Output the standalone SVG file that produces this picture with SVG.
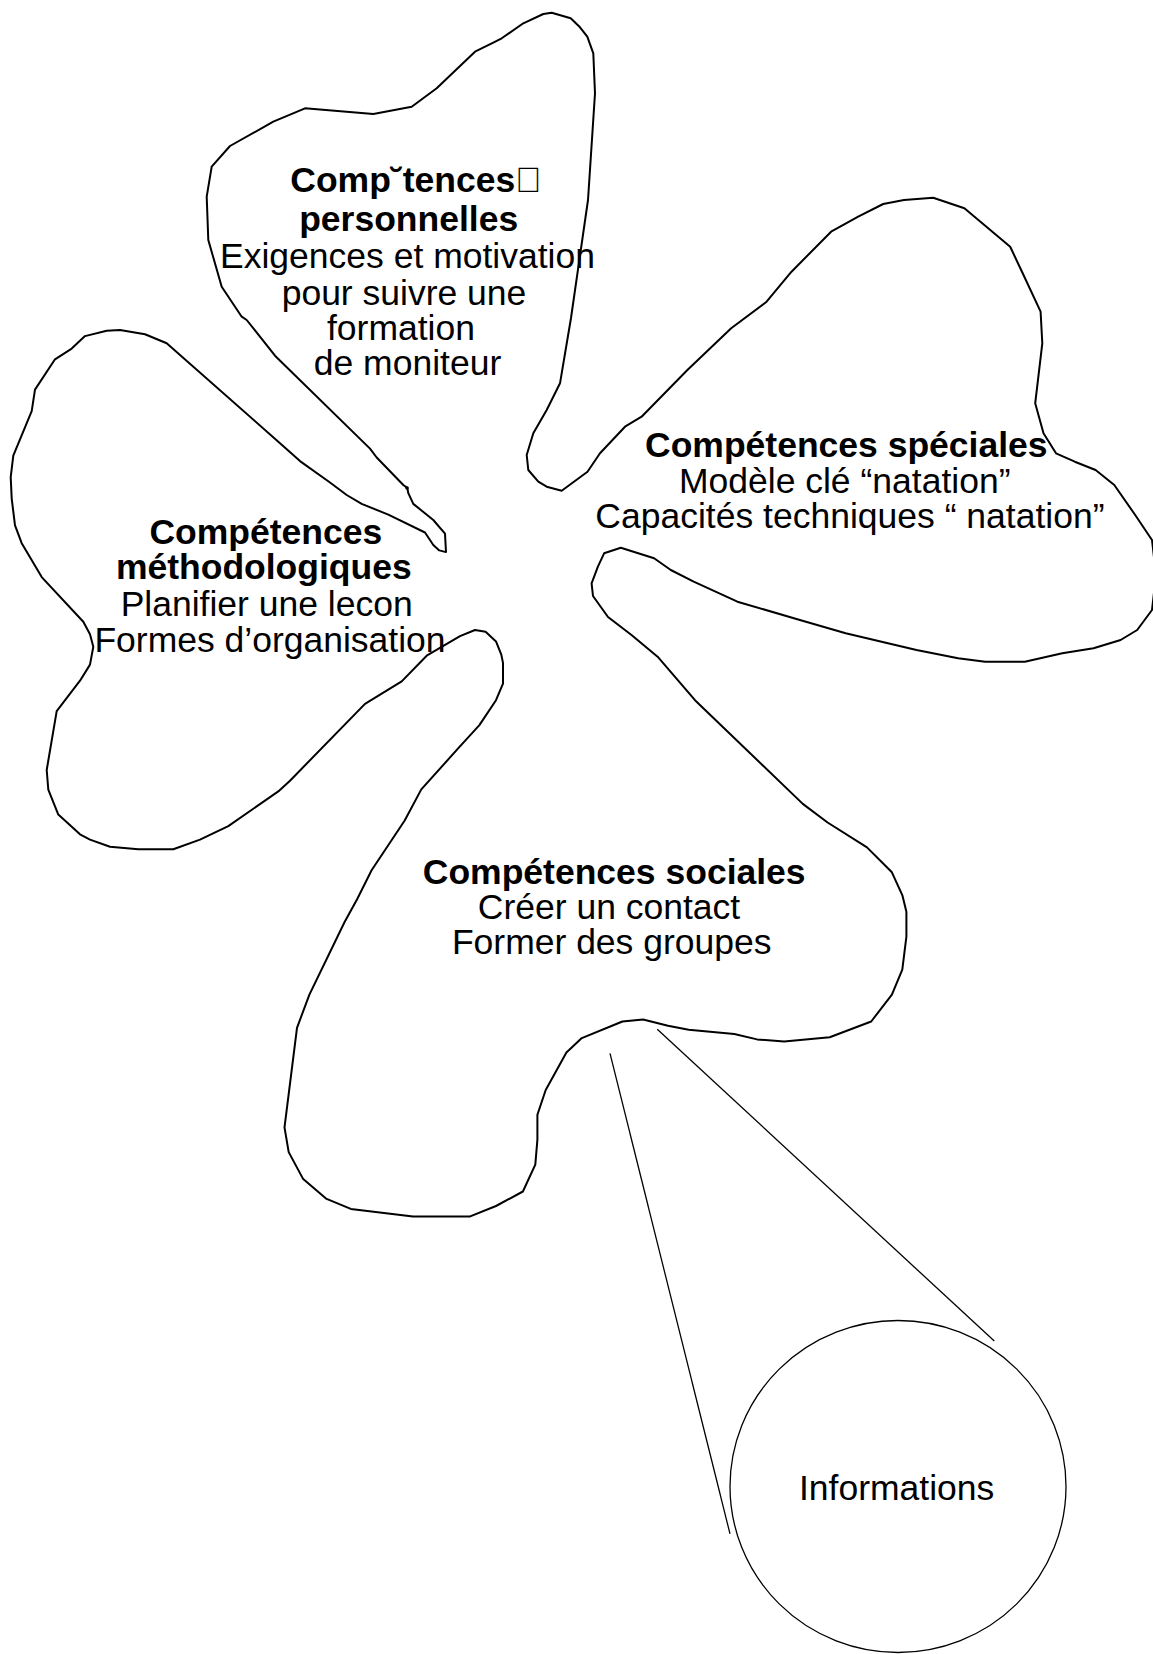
<svg xmlns="http://www.w3.org/2000/svg" width="1153" height="1654" viewBox="0 0 1153 1654">
<style>
.outline{fill:none;stroke:#000;stroke-width:2;stroke-linejoin:round}
.thin{fill:none;stroke:#000;stroke-width:1.3}
text{font-family:"Liberation Sans",Arial,Helvetica,sans-serif;font-size:35.5px;fill:#000;text-anchor:middle}
.b{font-weight:bold}
</style>
<rect width="1153" height="1654" fill="#fff"/>
<g id="flower">
<path class="outline" d="M551.7,12.7 L570.7,18.3 L580,27.3 L587.3,36.7 L593.3,53.3 L595,93.3 L588,200 L571,318 L560,383.3 L546.7,410 L533.3,433.3 L526.7,455 L528.3,470 L538.3,481.7 L546.7,486.7 L561.7,490.7 L587.5,471.7 L600,453.3 L625,426.7 L641.6,416.7 L687.4,370 L731.2,328.3 L766.6,301.7 L791.5,271.7 L831.1,231.7 L858.2,216.7 L883.2,204 L904,200 L933.2,197.7 L964.4,208.3 L1010.2,246.7 L1022.7,273.3 L1040.6,311.7 L1042.3,343.3 L1035.2,403.3 L1043.5,433.3 L1056,453.3 L1074.8,461.7 L1095.6,470 L1114.3,485 L1135.2,515 L1152,540 L1156,575 L1152,610 L1137.2,630 L1120.6,640 L1093.5,648.3 L1062.3,653.3 L1024.8,661.7 L985.2,661.7 L958.1,658.3 L916.5,650 L845.7,633.3 L799.9,620 L737.4,601.7 L693.7,581.7 L670.8,570 L654.1,558.3 L620.8,547.7 L604.1,553.3 L597.9,566.7 L591.6,583.3 L593,596 L608,617 L631.5,635 L657.6,656.7 L695,700.2 L802.8,803.9 L827.6,822.5 L867,847.4 L891.9,872.3 L902.3,895.1 L906.4,911.7 L906.4,936.6 L902.3,969.7 L891.9,994.6 L871.2,1021.5 L829.7,1037.3 L784.1,1041.4 L757.1,1039.4 L734.3,1034 L688.7,1029.8 L668,1025.7 L643.1,1019.5 L622.4,1021.5 L581.8,1038.1 L566.4,1052.6 L545.7,1090 L537.4,1114.8 L537.4,1139.7 L535.3,1164.6 L522.9,1191.5 L496,1206 L470.2,1216.4 L413,1216.4 L350.8,1208.9 L326,1198.6 L303.2,1179.1 L288.7,1152.1 L284.5,1127.3 L297,1027.8 L309.4,994.6 L344.6,922 L357.1,899.2 L371.6,870.2 L404.7,820.5 L421.3,789.4 L458.6,747.9 L479.4,725.1 L496,700.2 L503,683.6 L503,662.9 L501.3,654.6 L496,641.4 L485.6,631.8 L475,630 L460,636.1 L426.7,655.7 L401.7,681.4 L365,703.9 L290,780.7 L278.3,791.4 L228.3,826.1 L200,839.6 L173.3,849.3 L138.3,849.3 L110,846.8 L90,839.6 L80,834.3 L58.3,814.6 L48.3,789.6 L46.7,770 L56.7,711.1 L80,680.7 L90,664.6 L93.3,646.8 L90,634.3 L83.3,621.8 L41.7,577.1 L21.7,543.2 L15,525.4 L11.7,498.6 L10.7,477.1 L13.3,455.7 L31.7,411.1 L35,389.6 L55,359.3 L71.7,348.6 L85,336.1 L106.7,330.7 L120,330 L145,334.3 L166.7,343.2 L280,443.2 L300,461.1 L330,482.5 L346.7,495 L361.7,503.9 L388.3,514.6 L425,532.5 L433.3,545 L439.3,550.4 L446,552.1 L445,533.6 L433.3,520 L413.3,503.9 L408.3,493.2 L407.3,487.9 L403.3,485 L376.7,457.5 L370,448.6 L275,355.7 L246.7,320 L241.7,316.7 L221.7,286.7 L208.3,240 L206.7,196.7 L211.7,166.7 L230,146 L273.3,121.7 L305,108.3 L373.3,114 L411.7,106.7 L436.7,88.3 L475,51.7 L493.3,42.7 L501.7,38.3 L523.3,23.3 L543.3,14 Z"/>
<circle cx="407" cy="488" r="1.8" fill="#000"/>
</g>
<g id="node-personnelles">
<text class="b" x="416" y="192">Comp˘tences&#xF0B7;</text>
<text class="b" x="408.7" y="231">personnelles</text>
<text x="407.5" y="267.5">Exigences et motivation</text>
<text x="404" y="304.5">pour suivre une</text>
<text x="401" y="340">formation</text>
<text x="407.5" y="374.5">de moniteur</text>
</g>
<g id="node-speciales">
<text class="b" x="846.3" y="456.7">Compétences spéciales</text>
<text x="844.7" y="493.3">Modèle clé “natation”</text>
<text x="849.9" y="528.3">Capacités techniques “ natation”</text>
</g>
<g id="node-methodologiques">
<text class="b" x="265.8" y="544.3">Compétences</text>
<text class="b" x="263.8" y="578.9">méthodologiques</text>
<text x="266.7" y="616.4">Planifier une lecon</text>
<text x="270" y="652.1">Formes d’organisation</text>
</g>
<g id="node-sociales">
<text class="b" x="614.2" y="883.5">Compétences sociales</text>
<text x="609" y="919.1">Créer un contact</text>
<text x="611.7" y="954">Former des groupes</text>
</g>
<g id="node-informations">
<ellipse class="thin" cx="898" cy="1486.5" rx="168" ry="166"/>
<text x="896.6" y="1500.4">Informations</text>
</g>
<g id="connectors">
<line class="thin" x1="610" y1="1053.4" x2="730" y2="1533.8"/>
<line class="thin" x1="657.3" y1="1029.2" x2="994.3" y2="1341.1"/>
</g>
</svg>
